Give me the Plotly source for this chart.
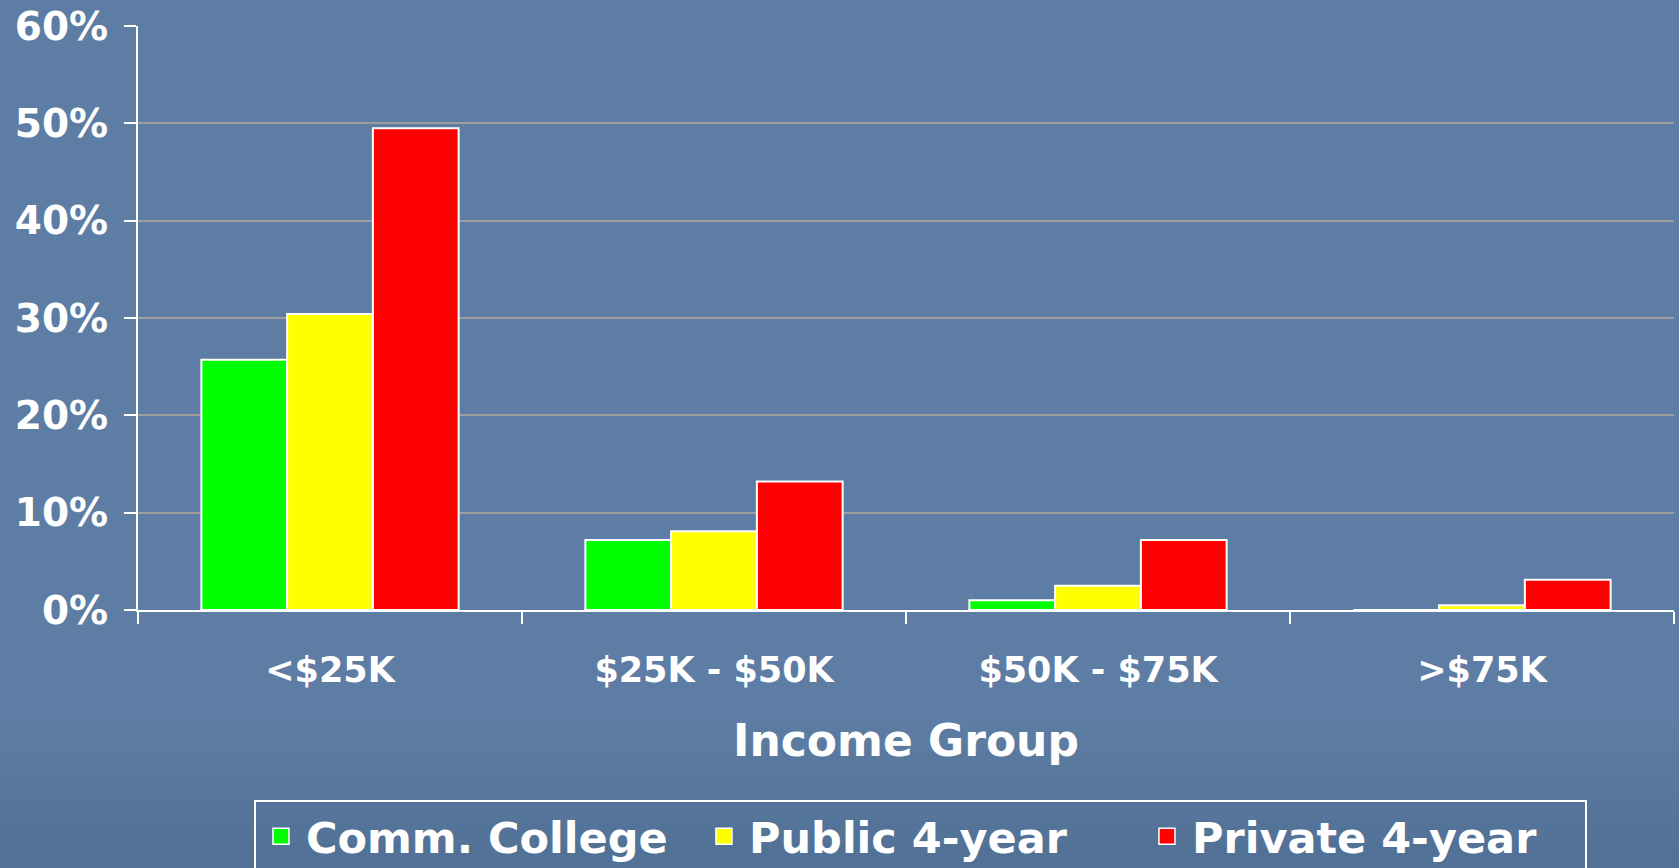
import plotly.graph_objects as go

# Share of students by income group and type of institution
income_groups = ["<$25K", "$25K - $50K", "$50K - $75K", ">$75K"]
comm_college = [0.257, 0.072, 0.010, 0.0]
public_4yr = [0.304, 0.081, 0.025, 0.005]
private_4yr = [0.495, 0.132, 0.072, 0.031]

series = [
    ("Comm. College", comm_college, "#00ff00"),
    ("Public 4-year", public_4yr, "#ffff00"),
    ("Private 4-year", private_4yr, "#ff0000"),
]

bold = "DejaVu Sans, Verdana, sans-serif"

fig = go.Figure()
for name, vals, color in series:
    fig.add_trace(go.Bar(
        x=income_groups, y=vals, name=name, showlegend=False,
        marker=dict(color=color, line=dict(color="white", width=2)),
    ))
# legend proxies so the swatches can be bigger than plotly's bar swatch
for name, vals, color in series:
    fig.add_trace(go.Scatter(
        x=[None], y=[None], name=name, mode="markers",
        marker=dict(symbol="square", size=16, color=color,
                    line=dict(color="white", width=1.5)),
    ))

# slide background gets a bit darker towards the bottom
for i in range(6):
    fig.add_shape(type="rect", xref="paper", yref="paper", layer="below",
                  x0=-0.1, x1=1.01, y0=-0.45, y1=-0.2 - i * 0.04,
                  fillcolor="rgba(30,50,80,0.03)", line_width=0)

fig.update_layout(
    width=1679, height=868,
    paper_bgcolor="#5d7da4",
    plot_bgcolor="rgba(0,0,0,0)",
    margin=dict(l=138, r=5, t=26, b=258, autoexpand=False),
    barmode="group", bargap=0.33, bargroupgap=0,
    font=dict(family=bold, color="white", weight="bold"),
    legend=dict(
        orientation="h", x=0.0755, xanchor="left", y=-0.325, yanchor="top",
        font=dict(size=43, color="white", family=bold, weight="bold"),
        bordercolor="white", borderwidth=2, bgcolor="rgba(0,0,0,0)",
        itemwidth=40, entrywidth=388,
    ),
)
fig.update_yaxes(
    range=[0, 0.6], dtick=0.1, tickformat=".0%",
    showgrid=True, gridcolor="#9e9e9e", gridwidth=2,
    showline=True, linecolor="white", linewidth=2,
    ticks="outside", ticklen=12, tickcolor="white", tickwidth=2,
    ticklabelstandoff=8,
    tickfont=dict(size=39, color="white", family=bold, weight="bold"),
    zeroline=False,
)
fig.update_xaxes(
    showline=True, linecolor="white", linewidth=2,
    ticks="outside", tickson="boundaries", ticklen=12, tickcolor="white", tickwidth=2,
    ticklabelstandoff=28,
    tickfont=dict(size=35, color="white", family=bold, weight="bold"),
    title=dict(text="Income Group", standoff=36,
               font=dict(size=44, color="white", family=bold, weight="bold")),
)

fig.write_html("out.html", config={"displayModeBar": False},
               post_script="document.body.style.margin='0';")
